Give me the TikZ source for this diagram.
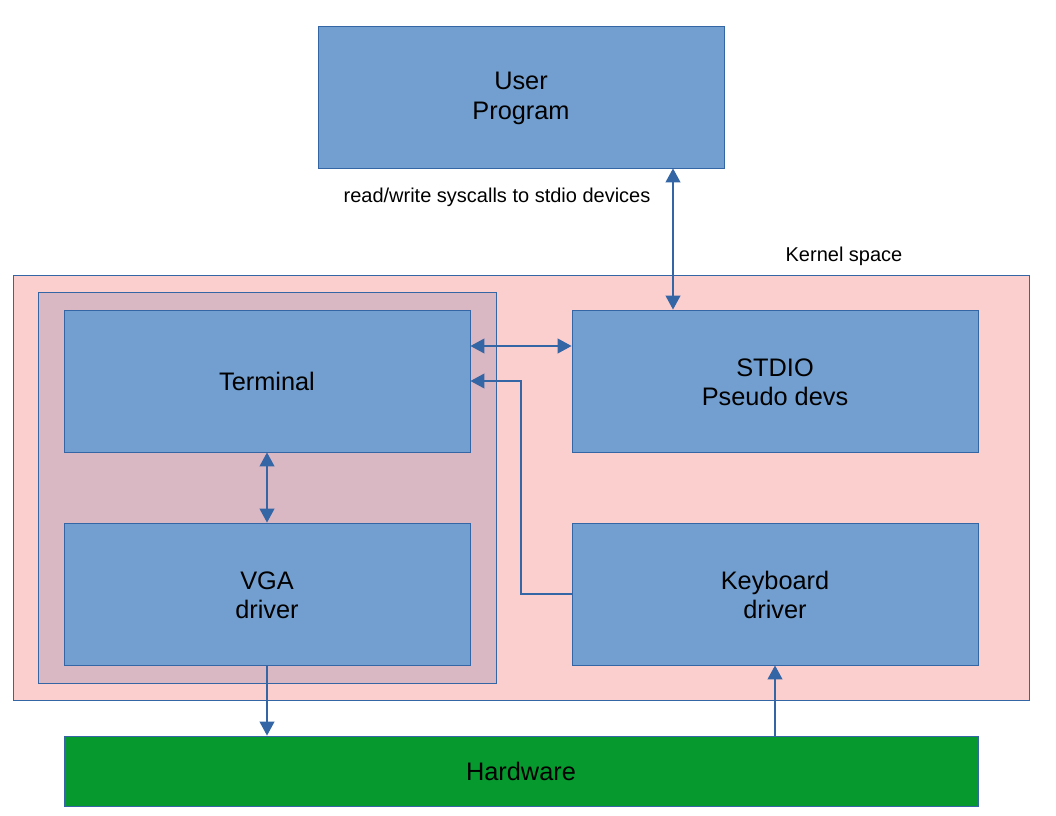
\documentclass[tikz,border=0pt]{standalone}
\usepackage{fontspec}
\setmainfont{Liberation Sans}
\usetikzlibrary{arrows.meta}
\definecolor{boxfill}{HTML}{729FCF}
\definecolor{boxline}{HTML}{3465A4}
\definecolor{kernfill}{HTML}{FCCFCF}
\definecolor{grpfill}{HTML}{D9B8C4}
\definecolor{hwfill}{HTML}{069A2E}
\begin{document}
\begin{tikzpicture}[
            x=0.75pt, y=-0.75pt,
            >={Triangle[length=10.5pt,width=11pt]},
            blk/.style={draw=boxline, fill=boxfill, rectangle, align=center, line width=0.6pt,
                        minimum width=304.5pt, minimum height=106.5pt, inner sep=0pt,
                        font=\fontsize{19}{22}\selectfont},
            area/.style={draw=boxline, rectangle, line width=0.6pt, inner sep=0pt},
            lnk/.style={draw=boxline, line width=1.5pt},
            lbl/.style={font=\fontsize{15}{18}\selectfont}
        ]
           \useasboundingbox (0,0) rectangle (1056,816);

           \node[area, fill=kernfill, minimum width=762pt, minimum height=318.75pt] (kern) at (521,487.5) {};
           \node[area, fill=grpfill, minimum width=343.5pt, minimum height=293.25pt] (grp) at (267,487.5) {};

           \node[blk] (user) at (521,97) {\strut User\\Program};
           \node[blk] (term) at (267,381) {Terminal};
           \node[blk] (stdio) at (775,381) {\strut STDIO\\Pseudo devs};
           \node[blk] (vga) at (267,594) {\strut VGA\\driver};
           \node[blk] (kbd) at (775,594) {\strut Keyboard\\driver};
           \node[blk, fill=hwfill, minimum width=685.5pt, minimum height=52.5pt] (hw) at (521,771) {Hardware};

           \node[lbl] (sys) at (497,197) {read/write syscalls to stdio devices};
           \node[lbl] (kspace) at (844,256) {Kernel space};

           \draw[lnk, <->] ([xshift=-76.5pt]stdio.north) -- ([xshift=-76.5pt]stdio.north |- user.south);
           \draw[lnk, <->] ([yshift=26.25pt]term.east) -- ([yshift=26.25pt]stdio.west);
           \draw[lnk, ->] (kbd.west) -- ++(-51,0) |- (term.east);
           \draw[lnk, <->] (term.south) -- (vga.north);
           \draw[lnk, ->] (vga.south) -- (vga.south |- hw.north);
           \draw[lnk, ->] (kbd.south |- hw.north) -- (kbd.south);
        \end{tikzpicture}
\end{document}
